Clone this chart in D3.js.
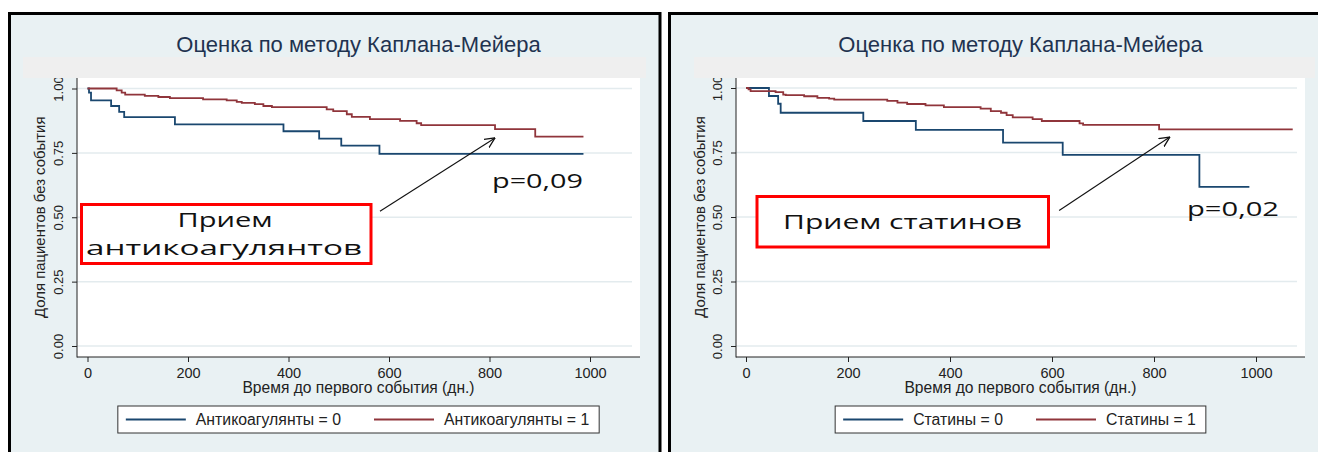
<!DOCTYPE html>
<html><head><meta charset="utf-8">
<script src="https://cdn.jsdelivr.net/npm/d3@7"></script>
<style>body{margin:0;background:#fff}svg{display:block}</style>
</head><body><svg id="c" width="1318" height="452"></svg>
<script>
// ---------- data ----------
const chartTitle = "Оценка по методу Каплана-Мейера";
const xAxisTitle = "Время до первого события (дн.)";
const yAxisTitle = "Доля пациентов без события";
const timeTicks = [0, 200, 400, 600, 800, 1000];
const survTicks = [0, 0.25, 0.5, 0.75, 1];

// Panel 1: anticoagulants
const antiLabels = ["Антикоагулянты = 0", "Антикоагулянты = 1"];
const anti0Time = [0, 3, 7, 47, 63, 73, 174, 390, 461, 505, 581, 987];
const anti0Surv = [1.0, 0.984, 0.954, 0.932, 0.909, 0.889, 0.861, 0.834, 0.805, 0.778, 0.746, 0.746];
const anti1Time = [0, 58, 68, 75, 114, 141, 164, 230, 277, 297, 307, 333, 350, 367, 476, 489, 516, 526, 562, 622, 655, 664, 811, 891, 987];
const anti1Surv = [1.0, 0.993, 0.984, 0.976, 0.971, 0.967, 0.963, 0.958, 0.954, 0.948, 0.944, 0.939, 0.932, 0.928, 0.919, 0.912, 0.9, 0.89, 0.881, 0.874, 0.865, 0.858, 0.842, 0.813, 0.813];
const antiNote = ["Прием", "антикоагулянтов"];
const antiP = "p=0,09";

// Panel 2: statins
const statLabels = ["Статины = 0", "Статины = 1"];
const stat0Time = [0, 45, 63, 68, 230, 333, 504, 621, 889, 987];
const stat0Surv = [1.0, 0.969, 0.939, 0.904, 0.872, 0.838, 0.788, 0.741, 0.617, 0.617];
const stat1Time = [0, 5, 9, 58, 73, 78, 114, 140, 163, 173, 277, 297, 316, 352, 388, 460, 480, 500, 511, 523, 562, 580, 654, 661, 810, 1072];
const stat1Surv = [1.0, 0.995, 0.988, 0.984, 0.974, 0.972, 0.968, 0.962, 0.959, 0.955, 0.95, 0.943, 0.938, 0.933, 0.926, 0.92, 0.91, 0.904, 0.895, 0.886, 0.879, 0.872, 0.863, 0.857, 0.84, 0.84];
const statNote = ["Прием статинов"];
const statP = "p=0,02";

// ---------- style ----------
const BG = "#e9f1f3", BAND = "#efefef", GRID = "#e3ebee";
const BLUE = "#1a476f", RED = "#90353b";
const FONT = "'Liberation Sans', Arial, sans-serif";
const NOTEFONT = "'Open Sans', 'Noto Sans', sans-serif";

const svg = d3.select("#c");

const panels = [
  {
    border: {x: 9.5, y: 13.5, w: 650.5, h: 470},
    band: {x: 23, y: 57, w: 623, h: 21},
    plot: {l: 77, r: 640, t: 78, b: 357}, gridR: 632,
    xr: [87.5, 590], yr: [346, 88.5],
    titleY: 44, yTitleX: 40, xTickY: 6, xTitleY: 388,
    legend: {t: 406, b: 433},
    labels: antiLabels,
    series: [[anti0Time, anti0Surv, BLUE], [anti1Time, anti1Surv, RED]],
    note: {box: {x: 81.5, y: 204.5, w: 289.5, h: 59}, lines: antiNote,
           lineCfg: [{cx: 225, base: 226.5, w: 95}, {cx: 224, base: 255, w: 276}]},
    p: {text: antiP, x: 492, base: 188, w: 91},
    arrow: {t0: 582, s0: 0.523, t1: 811, s1: 0.808}
  },
  {
    border: {x: 669.5, y: 13.5, w: 700, h: 470},
    band: {x: 694, y: 57, w: 621, h: 21},
    plot: {l: 736, r: 1305, t: 78, b: 357}, gridR: 1297,
    xr: [746, 1256], yr: [346, 88],
    titleY: 44, yTitleX: 700, xTickY: 6, xTitleY: 388,
    legend: {t: 406, b: 433},
    labels: statLabels,
    series: [[stat0Time, stat0Surv, BLUE], [stat1Time, stat1Surv, RED]],
    note: {box: {x: 757, y: 196.5, w: 291.5, h: 50.5}, lines: statNote,
           lineCfg: [{cx: 902.5, base: 229, w: 239}]},
    p: {text: statP, x: 1187, base: 215.5, w: 92},
    arrow: {t0: 614, s0: 0.525, t1: 831, s1: 0.81}
  }
];

// arrow marker
svg.append("defs").append("marker")
  .attr("id", "arr").attr("viewBox", "0 0 10 10").attr("refX", 9.5).attr("refY", 5)
  .attr("markerWidth", 11).attr("markerHeight", 11).attr("markerUnits", "userSpaceOnUse")
  .attr("orient", "auto")
  .append("path").attr("d", "M0,0.5 L9.5,5 L0,9.5").attr("fill", "none")
  .attr("stroke", "#111").attr("stroke-width", 1.2);

function drawPanel(c) {
  const g = svg.append("g");
  const pr = c.plot;
  g.append("rect").attr("x", c.border.x).attr("y", c.border.y)
    .attr("width", c.border.w).attr("height", c.border.h)
    .attr("fill", BG).attr("stroke", "#000").attr("stroke-width", 3);
  g.append("rect").attr("x", pr.l).attr("y", pr.t).attr("width", pr.r - pr.l)
    .attr("height", pr.b - pr.t).attr("fill", "#fff");

  const x = d3.scaleLinear().domain([0, 1000]).range(c.xr);
  const y = d3.scaleLinear().domain([0, 1]).range(c.yr);

  // grid
  g.append("g").selectAll("line").data(survTicks).join("line")
    .attr("x1", pr.l).attr("x2", c.gridR)
    .attr("y1", d => y(d)).attr("y2", d => y(d))
    .attr("stroke", GRID).attr("stroke-width", 1.5);

  // axes
  const ya = g.append("g").attr("transform", `translate(${pr.l},0)`)
    .call(d3.axisLeft(y).tickValues(survTicks).tickFormat(d3.format(".2f")).tickSize(5));
  ya.select(".domain").remove();
  ya.selectAll("line").attr("stroke", "#222");
  ya.selectAll("text").attr("x", 0).attr("dy", 0)
    .attr("transform", "translate(-14.5,0) rotate(-90)")
    .attr("text-anchor", "middle").attr("fill", "#222")
    .style("font-family", FONT).style("font-size", "13px");

  const xa = g.append("g").attr("transform", `translate(0,${pr.b})`)
    .call(d3.axisBottom(x).tickValues(timeTicks).tickFormat(d3.format("d")).tickSize(5).tickPadding(c.xTickY));
  xa.select(".domain").remove();
  xa.selectAll("line").attr("stroke", "#222");
  xa.selectAll("text").attr("fill", "#222")
    .style("font-family", FONT).style("font-size", "14.5px");

  g.append("line").attr("x1", pr.l).attr("x2", pr.l).attr("y1", pr.t).attr("y2", pr.b + 0.5)
    .attr("stroke", "#222").attr("stroke-width", 1);
  g.append("line").attr("x1", pr.l).attr("x2", pr.r).attr("y1", pr.b).attr("y2", pr.b)
    .attr("stroke", "#222").attr("stroke-width", 1);

  // curves
  const line = d3.line().curve(d3.curveStepAfter).x(d => x(d[0])).y(d => y(d[1]));
  c.series.forEach(([ts, ss, col]) => {
    g.append("path").datum(ts.map((t, i) => [t, ss[i]]))
      .attr("d", line).attr("fill", "none").attr("stroke", col).attr("stroke-width", 1.8);
  });

  // top band (overlaps 1.00 label like the reference)
  g.append("rect").attr("x", c.band.x).attr("y", c.band.y)
    .attr("width", c.band.w).attr("height", c.band.h).attr("fill", BAND);

  // titles
  const cx = (pr.l + pr.r) / 2;
  g.append("text").attr("x", cx).attr("y", c.titleY).attr("dy", "0.35em")
    .attr("text-anchor", "middle").attr("fill", "#1f3350")
    .style("font-family", FONT).style("font-size", "22px").text(chartTitle);
  g.append("text").attr("x", cx).attr("y", c.xTitleY).attr("dy", "0.35em")
    .attr("text-anchor", "middle").attr("fill", "#222")
    .style("font-family", FONT).style("font-size", "15.6px").text(xAxisTitle);
  g.append("text").attr("transform", `translate(${c.yTitleX},${(y(0) + y(1)) / 2}) rotate(-90)`)
    .attr("dy", "0.35em").attr("text-anchor", "middle").attr("fill", "#222")
    .style("font-family", FONT).style("font-size", "14.9px").text(yAxisTitle);

  // legend
  const lg = g.append("g");
  const box = lg.append("rect").attr("fill", "#fff").attr("stroke", "#333").attr("stroke-width", 1);
  const tmp = c.labels.map(l => lg.append("text").style("font-family", FONT).style("font-size", "15.8px")
    .attr("fill", "#222").text(l));
  const tw = tmp.map(t => t.node().getComputedTextLength());
  const pad = 8, lineW = 60, gap1 = 10, gap2 = 33;
  const totalW = pad + lineW + gap1 + tw[0] + gap2 + lineW + gap1 + tw[1] + pad + 2;
  const lx = cx - totalW / 2;
  const ly = (c.legend.t + c.legend.b) / 2;
  box.attr("x", lx).attr("y", c.legend.t).attr("width", totalW).attr("height", c.legend.b - c.legend.t);
  let cur = lx + pad;
  c.series.forEach((s, i) => {
    lg.append("line").attr("x1", cur).attr("x2", cur + lineW).attr("y1", ly).attr("y2", ly)
      .attr("stroke", s[2]).attr("stroke-width", 2);
    cur += lineW + gap1;
    tmp[i].attr("x", cur).attr("y", ly).attr("dy", "0.35em");
    cur += tw[i] + gap2;
  });

  // annotation box
  const n = c.note;
  g.append("rect").attr("x", n.box.x).attr("y", n.box.y).attr("width", n.box.w).attr("height", n.box.h)
    .attr("fill", "#fff").attr("stroke", "#ff0000").attr("stroke-width", 3);
  n.lines.forEach((t, i) => {
    const lc = n.lineCfg[i];
    g.append("text").attr("x", lc.cx - lc.w / 2).attr("y", lc.base)
      .attr("textLength", lc.w).attr("lengthAdjust", "spacingAndGlyphs")
      .attr("fill", "#111").style("font-family", NOTEFONT).style("font-size", "20px").text(t);
  });
  g.append("text").attr("x", c.p.x).attr("y", c.p.base)
    .attr("textLength", c.p.w).attr("lengthAdjust", "spacingAndGlyphs")
    .attr("fill", "#111").style("font-family", NOTEFONT).style("font-size", "20px").text(c.p.text);
  const a = c.arrow;
  g.append("line").attr("x1", x(a.t0)).attr("y1", y(a.s0)).attr("x2", x(a.t1)).attr("y2", y(a.s1))
    .attr("stroke", "#111").attr("stroke-width", 1.1).attr("marker-end", "url(#arr)");
}

panels.forEach(drawPanel);
</script></body></html>
